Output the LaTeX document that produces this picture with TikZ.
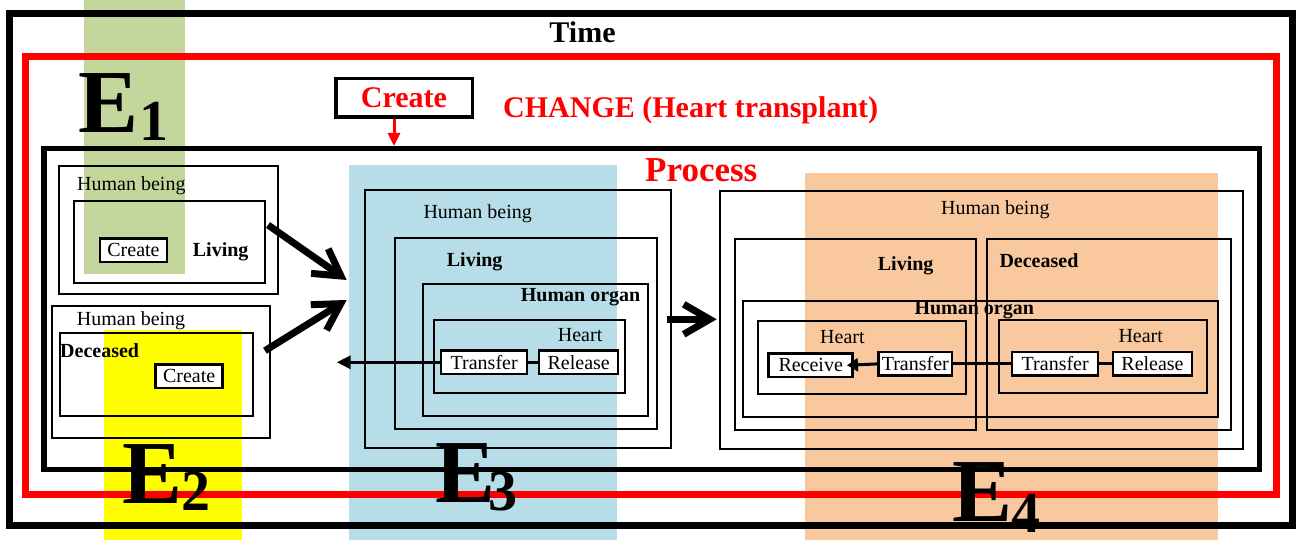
\documentclass[tikz,border=0pt]{standalone}
\usepackage{fontspec}
\setmainfont{Liberation Serif}
\usetikzlibrary{arrows.meta,fit}
\definecolor{bandgreen}{RGB}{195,214,155}
\definecolor{bandyellow}{RGB}{255,255,0}
\definecolor{bandblue}{RGB}{183,222,232}
\definecolor{bandorange}{RGB}{249,200,158}
\definecolor{framered}{RGB}{255,0,0}
\newcommand{\fReg}{\fontsize{20}{24}\selectfont}
\newcommand{\fBold}{\fontsize{20}{24}\selectfont\bfseries}
\newcommand{\fBig}{\fontsize{30}{36}\selectfont\bfseries}
\newcommand{\fProc}{\fontsize{35}{42}\selectfont\bfseries}
\newcommand{\fE}{\fontsize{90}{90}\selectfont\bfseries}
\newcommand{\fEs}{\fontsize{58}{58}\selectfont\bfseries}
\begin{document}
\begin{tikzpicture}[x=1pt,y=-1pt,
  bigbox/.style={draw, line width=2pt, inner sep=0pt},
  smallbox/.style={draw, fill=white, line width=2.5pt, inner sep=0pt, minimum height=23.5pt, font=\fReg},
  lab/.style={anchor=base west, inner sep=0pt, font=\fReg},
  blab/.style={anchor=base west, inner sep=0pt, font=\fBold},
  elab/.style={anchor=base west, inner sep=0pt, font=\fE},
  esub/.style={anchor=base west, inner sep=0pt, font=\fEs},
  band/.style={draw=none, inner sep=0pt},
  frame/.style={draw, inner sep=0pt},
  link/.style={line width=3pt},
  thickarrow/.style={line width=7pt, -{Straight Barb[length=26pt,width=30pt]}},
]
\useasboundingbox (0,0) rectangle (1296,540);
\fill[white] (0,0) rectangle (1296,540);
% coloured bands
\node[band, fill=bandgreen, fit={(84,0) (185,274.3)}] (bandA) {};
\node[band, fill=bandyellow, fit={(104,330) (242.3,540)}] (bandB) {};
\node[band, fill=bandblue, fit={(349.3,165) (616.7,540)}] (bandC) {};
\node[band, fill=bandorange, fit={(805,172.7) (1218,540)}] (bandD) {};
% frames
\node[frame, line width=7pt, fit={(9,14) (1292.5,525.5)}] (timeframe) {};
\node[frame, draw=framered, line width=7pt, fit={(25.5,57) (1276.5,494)}] (changeframe) {};
\node[frame, line width=5.5pt, fit={(44,148.3) (1259.5,469.5)}] (processframe) {};
\node[anchor=base, inner sep=0pt, font=\fBig] (timelab) at (582.5,43) {Time};
\node[anchor=base west, inner sep=0pt, font=\fBig, text=framered] (changelab) at (503,118) {CHANGE (Heart transplant)};
\node[anchor=base west, inner sep=0pt, font=\fProc, text=framered] (proclab) at (645,182) {Process};
\node[draw, line width=3.5pt, inner sep=0pt, minimum width=136.5pt, minimum height=38.5pt, text=framered, font=\fBig] (crtop) at (404,98) {Create};
\coordinate (crtip) at (394,146);
\draw[draw=framered, line width=3pt, -{Triangle[length=13pt,width=12pt]}] ([xshift=-10pt]crtop.south) -- (crtip);
% E1 group
\node[bigbox, fit={(58.5,166) (277.5,294)}] (hb1) {};
\node[bigbox, fit={(74,201.5) (265,282.5)}] (liv1) {};
\node[lab] (hb1t) at (77,191) {Human being};
\node[blab] (liv1t) at (192.7,256.7) {Living};
\node[smallbox, minimum width=67pt] (cr1) at (133.5,250.3) {Create};
% E2 group
\node[bigbox, fit={(51.5,306) (270,437.5)}] (hb2) {};
\node[bigbox, fit={(60,332.5) (253,416)}] (dec2) {};
\node[lab] (hb2t) at (76.7,325) {Human being};
\node[blab] (dec2t) at (60,357) {Deceased};
\node[smallbox, minimum width=67pt] (cr2) at (189.2,376.3) {Create};
% E3 group
\node[bigbox, fit={(365,190) (671,448)}] (hb3) {};
\node[bigbox, fit={(395,238.5) (657,428.5)}] (liv3) {};
\node[bigbox, fit={(423,283.5) (647.5,416)}] (org3) {};
\node[bigbox, fit={(434,320) (625,392.5)}] (hrt3) {};
\node[lab] (hb3t) at (423.3,218.3) {Human being};
\node[blab] (liv3t) at (446.7,266) {Living};
\node[blab] (org3t) at (520.7,301.7) {Human organ};
\node[lab] (hrt3t) at (557.7,341.7) {Heart};
\node[smallbox, minimum width=86pt] (tr3) at (484.2,362.3) {Transfer};
\node[smallbox, minimum width=79pt] (re3) at (578.7,362.3) {Release};
\draw[link] (tr3.east) -- (re3.west);
\coordinate (tr3tip) at (336.7,362.3);
\draw[line width=3pt, -{Triangle[length=14pt,width=13pt]}] (tr3.west) -- (tr3tip);
% E4 group
\node[bigbox, fit={(720,191) (1243,449)}] (hb4) {};
\node[bigbox, fit={(735,239.5) (976,430)}] (liv4) {};
\node[bigbox, fit={(987,239.5) (1231,430)}] (dec4) {};
\node[bigbox, fit={(742.5,301) (1217.5,417)}] (org4) {};
\node[bigbox, fit={(757.5,321) (966,393.5)}] (hrt4a) {};
\node[bigbox, fit={(998.5,320) (1207,392.5)}] (hrt4b) {};
\node[lab] (hb4t) at (941,215) {Human being};
\node[blab] (liv4t) at (877.7,270) {Living};
\node[blab] (dec4t) at (999.3,267.3) {Deceased};
\node[blab] (org4t) at (914.3,314) {Human organ};
\node[lab] (hrt4at) at (820,343.3) {Heart};
\node[lab] (hrt4bt) at (1118.3,342.7) {Heart};
\node[smallbox, minimum width=84pt] (rc4) at (810.7,365.3) {Receive};
\node[smallbox, minimum width=73.5pt] (tr4a) at (915.3,363.9) {Transfer};
\node[smallbox, minimum width=86pt] (tr4b) at (1055.2,363.9) {Transfer};
\node[smallbox, minimum width=79pt] (re4) at (1152.5,363.9) {Release};
\draw[link] (tr4b.east) -- (re4.west);
\draw[link] (tr4b.west) -- (tr4a.east);
\draw[line width=3pt, -{Triangle[length=11pt,width=13pt]}] (tr4a.west) -- ([xshift=-7pt]rc4.east);
% thick arrows
\coordinate (a1s) at (268,225);
\coordinate (a1e) at (346.7,280);
\coordinate (a2s) at (265,350.7);
\coordinate (a2e) at (346.7,300);
\coordinate (a3s) at (666.7,319.3);
\coordinate (a3e) at (716.7,319.3);
\draw[thickarrow] (a1s) -- (a1e);
\draw[thickarrow] (a2s) -- (a2e);
\draw[thickarrow] (a3s) -- (a3e);
% E labels
\node[elab] (E1) at (78,133) {E};
\node[esub] (E1s) at (139,141) {1};
\node[elab] (E2) at (122.5,503) {E};
\node[esub] (E2s) at (181,510) {2};
\node[elab] (E3) at (435,502) {E};
\node[esub] (E3s) at (488,510) {3};
\node[elab] (E4) at (952,521.7) {E};
\node[esub] (E4s) at (1011,532) {4};
\end{tikzpicture}
\end{document}
